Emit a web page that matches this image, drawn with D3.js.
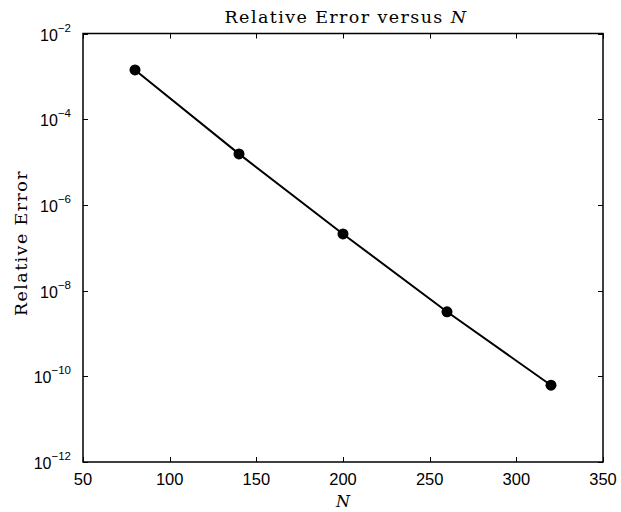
<!DOCTYPE html>
<html>
<head>
<meta charset="utf-8">
<script src="https://cdn.jsdelivr.net/npm/d3@7"></script>
<style>
body { margin: 0; background: #fff; }
</style>
</head>
<body>
<svg width="621" height="512"></svg>
<script>
var nValues = [80, 140, 200, 260, 320];
var errValues = [1.41e-3, 1.55e-5, 2.1e-7, 3.2e-9, 6.2e-11];
var xTicks = [50, 100, 150, 200, 250, 300, 350];
var yExponents = [-2, -4, -6, -8, -10, -12];

var margin = {left: 83, top: 33.5, right: 18, bottom: 50};
var screen = {width: 621, height: 512};
var svg = d3.select("svg");

var xScale = d3.scaleLinear()
    .domain([50, 350])
    .range([margin.left, screen.width - margin.right]);

var yScale = d3.scaleLog()
    .domain([1e-12, 1e-2])
    .range([screen.height - margin.bottom, margin.top]);

var x0 = xScale.range()[0], x1 = xScale.range()[1];
var y0 = yScale.range()[0], y1 = yScale.range()[1];
var tickLen = 5;

// inner ticks, all four sides
var ticks = svg.append("g").attr("stroke", "#000").attr("stroke-width", 1);
xTicks.forEach(function(t){
    var x = Math.round(xScale(t)) + 0.5;
    ticks.append("line").attr("x1", x).attr("x2", x).attr("y1", y0).attr("y2", y0 - tickLen);
    ticks.append("line").attr("x1", x).attr("x2", x).attr("y1", y1).attr("y2", y1 + tickLen);
});
yExponents.forEach(function(e){
    var y = Math.round(yScale(Math.pow(10, e))) + 0.5;
    ticks.append("line").attr("x1", x0).attr("x2", x0 + tickLen).attr("y1", y).attr("y2", y);
    ticks.append("line").attr("x1", x1).attr("x2", x1 - tickLen).attr("y1", y).attr("y2", y);
});

// box
svg.append("rect")
    .attr("x", x0).attr("y", y1)
    .attr("width", x1 - x0).attr("height", y0 - y1)
    .attr("fill", "none").attr("stroke", "#000").attr("stroke-width", 1.5);

// x tick labels
svg.append("g").selectAll("text")
    .data(xTicks)
    .enter()
    .append("text")
    .attr("x", function(d){ return xScale(d); })
    .attr("y", y0 + 23)
    .attr("text-anchor", "middle")
    .attr("font-family", "Liberation Sans, Arial, sans-serif")
    .attr("font-size", 16.5)
    .text(function(d){ return d; });

// y tick labels 10^e
var yl = svg.append("g").selectAll("text")
    .data(yExponents)
    .enter()
    .append("text")
    .attr("x", x0 - 12)
    .attr("y", function(d){ return yScale(Math.pow(10, d)) + 7; })
    .attr("text-anchor", "end")
    .attr("font-family", "Liberation Sans, Arial, sans-serif")
    .attr("font-size", 16);
yl.append("tspan").text("10");
yl.append("tspan")
    .attr("dy", -9)
    .attr("font-size", 11.5)
    .text(function(d){ return "\u2212" + Math.abs(d); });

// line and points
var line = d3.line()
    .x(function(d, i){ return xScale(nValues[i]); })
    .y(function(d){ return yScale(d); });

svg.append("path")
    .datum(errValues)
    .attr("d", line)
    .attr("fill", "none")
    .attr("stroke", "#000")
    .attr("stroke-width", 2);

svg.append("g").selectAll("circle")
    .data(errValues)
    .enter()
    .append("circle")
    .attr("cx", function(d, i){ return xScale(nValues[i]); })
    .attr("cy", function(d){ return yScale(d); })
    .attr("r", 5.5)
    .attr("fill", "#000");

// title and axis labels
var serif = "DejaVu Serif, serif";
var title = svg.append("text")
    .attr("x", (x0 + x1) / 2 + 3)
    .attr("y", 23)
    .attr("text-anchor", "middle")
    .attr("font-family", serif)
    .attr("font-size", 17.5)
    .attr("letter-spacing", 1.4);
title.append("tspan").text("Relative Error versus ");
title.append("tspan").attr("font-style", "italic").text("N");

svg.append("text")
    .attr("x", (x0 + x1) / 2)
    .attr("y", 507)
    .attr("text-anchor", "middle")
    .attr("font-family", serif)
    .attr("font-style", "italic")
    .attr("font-size", 16)
    .text("N");

svg.append("text")
    .attr("transform", "translate(27,243) rotate(-90)")
    .attr("text-anchor", "middle")
    .attr("font-family", serif)
    .attr("font-size", 17.5)
    .attr("letter-spacing", 1.4)
    .text("Relative Error");
</script>
</body>
</html>
